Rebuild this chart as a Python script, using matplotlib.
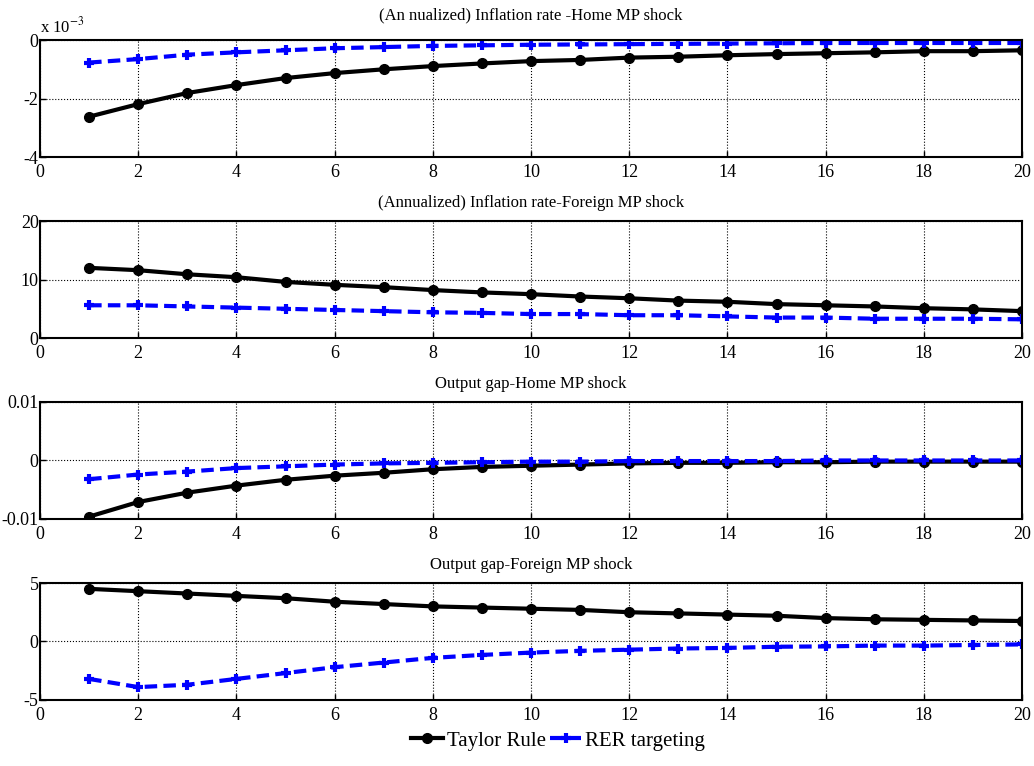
import matplotlib
matplotlib.use("Agg")
import matplotlib.pyplot as plt
from matplotlib.lines import Line2D

plt.rcParams['font.family'] = ['Liberation Serif', 'DejaVu Serif']
plt.rcParams['mathtext.fontset'] = 'stix'

horizon = list(range(1, 21))

# inflation, home MP shock (in units of 1e-3)
infl_home_taylor = [-2.62, -2.19, -1.81, -1.54, -1.30, -1.13, -1.00, -0.89, -0.80, -0.72,
                    -0.68, -0.60, -0.57, -0.52, -0.48, -0.45, -0.42, -0.38, -0.38, -0.35]
infl_home_rer = [-0.77, -0.65, -0.50, -0.42, -0.35, -0.28, -0.24, -0.20, -0.18, -0.16,
                 -0.15, -0.14, -0.13, -0.12, -0.11, -0.10, -0.10, -0.10, -0.10, -0.10]

# inflation, foreign MP shock
infl_for_taylor = [12.0, 11.6, 10.9, 10.4, 9.6, 9.1, 8.7, 8.2, 7.8, 7.5,
                   7.1, 6.8, 6.4, 6.2, 5.8, 5.6, 5.4, 5.1, 4.9, 4.6]
infl_for_rer = [5.6, 5.6, 5.4, 5.2, 5.0, 4.8, 4.6, 4.4, 4.3, 4.1,
                4.1, 3.9, 3.9, 3.7, 3.5, 3.5, 3.3, 3.3, 3.3, 3.2]

# output gap, home MP shock
gap_home_taylor = [-0.0096, -0.0071, -0.0055, -0.0043, -0.0033, -0.0026, -0.0021, -0.0015,
                   -0.0011, -0.0009, -0.0007, -0.0005, -0.0004, -0.0004, -0.0003, -0.0003,
                   -0.0002, -0.0002, -0.0002, -0.0002]
gap_home_rer = [-0.0032, -0.0024, -0.0019, -0.0013, -0.0010, -0.0007, -0.0005, -0.0004,
                -0.0003, -0.0002, -0.0002, -0.0001, -0.0001, -0.0001, -0.0001, 0.0,
                0.0, 0.0, 0.0, 0.0]

# output gap, foreign MP shock
gap_for_taylor = [4.5, 4.3, 4.1, 3.9, 3.7, 3.4, 3.2, 3.0, 2.9, 2.8,
                  2.7, 2.5, 2.4, 2.3, 2.2, 2.0, 1.9, 1.85, 1.8, 1.75]
gap_for_rer = [-3.2, -3.9, -3.7, -3.2, -2.7, -2.2, -1.8, -1.4, -1.15, -0.95,
               -0.8, -0.7, -0.6, -0.55, -0.45, -0.42, -0.35, -0.35, -0.3, -0.25]

titles = ['(An nualized) Inflation rate -Home MP shock',
          '(Annualized) Inflation rate-Foreign MP shock',
          'Output gap-Home MP shock',
          'Output gap-Foreign MP shock']
series = [(infl_home_taylor, infl_home_rer),
          (infl_for_taylor, infl_for_rer),
          (gap_home_taylor, gap_home_rer),
          (gap_for_taylor, gap_for_rer)]
ylims = [(-4, 0), (0, 20), (-0.01, 0.01), (-5, 5)]
yticks = [[-4, -2, 0], [0, 10, 20], [-0.01, 0, 0.01], [-5, 0, 5]]
yticklabels = [['-4', '-2', '0'], ['0', '10', '20'], ['-0.01', '0', '0.01'], ['-5', '0', '5']]
xticks = list(range(0, 21, 2))

fig = plt.figure(figsize=(10.34, 7.66), dpi=100)
bottoms = [0.795, 0.5587, 0.3225, 0.0862]
title_pads = [15, 10, 10, 10]

for i in range(4):
    ax = fig.add_axes([0.0387, bottoms[i], 0.9497, 0.1527])
    taylor, rer = series[i]
    ax.plot(horizon, taylor, color='black', linestyle='-', linewidth=3,
            marker='o', markersize=7)
    ax.plot(horizon, rer, color='blue', linestyle='--', linewidth=3, dashes=(3, 1.5),
            marker='+', markersize=7, markeredgewidth=3)
    ax.set_xlim(0, 20)
    ax.set_ylim(*ylims[i])
    ax.set_xticks(xticks)
    ax.set_xticklabels([str(t) for t in xticks])
    ax.set_yticks(yticks[i])
    ax.set_yticklabels(yticklabels[i])
    ax.grid(True, color='black', linestyle=':', linewidth=0.8)
    ax.tick_params(direction='in', length=4, width=1, labelsize=13)
    ax.tick_params(axis='x', pad=5)
    ax.tick_params(axis='y', pad=1)
    for sp in ax.spines.values():
        sp.set_linewidth(1.5)
    ax.set_title(titles[i], fontsize=12, pad=title_pads[i])
    if i == 0:
        ax.text(0.0, 1.03, r'x 10$^{-3}$', transform=ax.transAxes, fontsize=12,
                ha='left', va='bottom')

handles = [Line2D([], [], color='black', linestyle='-', linewidth=3, marker='o', markersize=7),
           Line2D([], [], color='blue', linestyle='--', linewidth=3, dashes=(3, 1.5),
                  marker='+', markersize=7, markeredgewidth=3)]
fig.legend(handles, ['Taylor Rule', 'RER targeting'], loc='center', bbox_to_anchor=(0.54, 0.033),
           ncol=2, frameon=False, fontsize=15, handlelength=1.5, columnspacing=0.2,
           handletextpad=0.2)

fig.savefig('out.png', dpi=100)
